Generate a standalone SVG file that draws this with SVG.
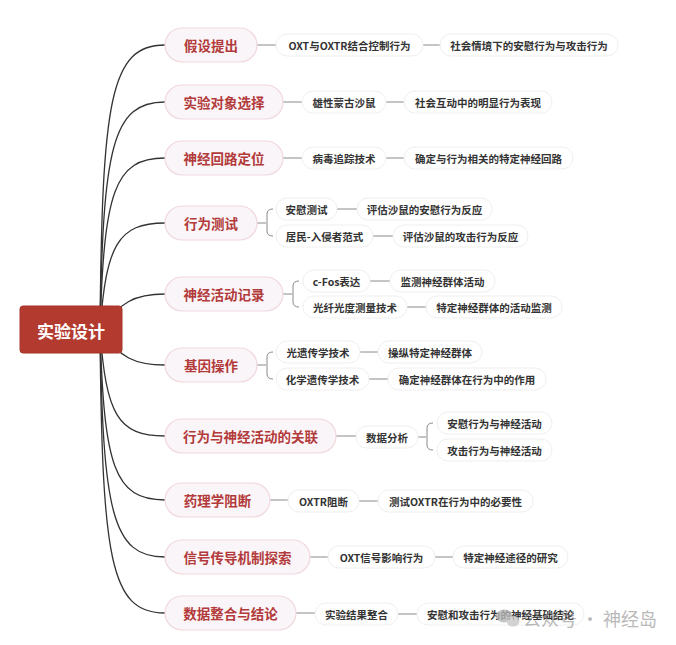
<svg xmlns="http://www.w3.org/2000/svg" width="676" height="645" viewBox="0 0 676 645">
<style>
  .bg{fill:#ffffff}
  .curve{fill:none;stroke:#333333;stroke-width:1.3}
  .line{fill:none;stroke:#8a8a8a;stroke-width:1}
  .root rect{fill:#b33a2f;stroke:#a8342a;stroke-width:1}
  .root text{fill:#ffffff;font-size:17px;font-weight:700}
  .l1 rect{fill:#faf5f8;stroke:#f0d8de;stroke-width:1.2}
  .l1 text{fill:#b23a3a;font-size:13.5px;font-weight:700}
  .l2 rect{fill:#ffffff;stroke:#efefef;stroke-width:1}
  .l2 text{fill:#333333;font-size:10.5px;font-weight:600}
  text{font-family:"Noto Sans CJK SC","Noto Sans",sans-serif;text-anchor:middle;dominant-baseline:central}
  .wm{fill:#8c8c8c;font-size:18px;font-weight:400;opacity:0.75;text-anchor:start}
</style>
<rect class="bg" x="0" y="0" width="676" height="645"/>

<g id="connectors">
  <!-- root to level1 -->
  <path class="curve" d="M100,330 C102,100 110,45 165,45"/>
  <path class="curve" d="M100,330 C103,148 112,102 165,102"/>
  <path class="curve" d="M100,330 C104,192 114,158 165,158"/>
  <path class="curve" d="M100,330 C106,245 118,223 165,223"/>
  <path class="curve" d="M100,330 C120,302 135,294 165,294"/>
  <path class="curve" d="M100,330 C120,358 135,365 165,365"/>
  <path class="curve" d="M100,330 C106,415 118,436 165,436"/>
  <path class="curve" d="M100,330 C104,466 114,500 165,500"/>
  <path class="curve" d="M100,330 C103,512 112,557 165,557"/>
  <path class="curve" d="M100,330 C102,560 110,613 165,613"/>

  <!-- row 1 -->
  <path class="line" d="M257,45 H276 M423,45 H440"/>
  <!-- row 2 -->
  <path class="line" d="M283,102 H302 M386,102 H404"/>
  <!-- row 3 -->
  <path class="line" d="M283,158 H302 M386,158 H404"/>
  <!-- row 4 -->
  <path class="line" d="M257,223 H266 M273,209 Q267,209 267,214 V231 Q267,236 273,236 M337,209 H357 M373,236 H393"/>
  <!-- row 5 -->
  <path class="line" d="M283,294 H292 M299,281 Q293,281 293,286 V302 Q293,307 299,307 M370,281 H390 M407,307 H426"/>
  <!-- row 6 -->
  <path class="line" d="M257,365 H266 M273,352 Q267,352 267,357 V374 Q267,379 273,379 M360,352 H378 M369,379 H388"/>
  <!-- row 7 -->
  <path class="line" d="M336,436 H356 M418,437 H426 M433,423 Q427,423 427,428 V445 Q427,450 433,450"/>
  <!-- row 8 -->
  <path class="line" d="M270,500 H288 M359,501 H378"/>
  <!-- row 9 -->
  <path class="line" d="M310,557 H328 M435,557 H453"/>
  <!-- row 10 -->
  <path class="line" d="M296,613 H315 M398,614 H417"/>
</g>

<g id="root" class="root">
  <rect x="20" y="306" width="102" height="47" rx="3"/>
  <text x="71" y="330">实验设计</text>
</g>

<g id="n1" class="l1"><rect x="165" y="28" width="92" height="34" rx="17"/><text x="211" y="45">假设提出</text></g>
<g id="n2" class="l1"><rect x="165" y="85" width="118" height="34" rx="17"/><text x="224" y="102">实验对象选择</text></g>
<g id="n3" class="l1"><rect x="165" y="141" width="118" height="34" rx="17"/><text x="224" y="158">神经回路定位</text></g>
<g id="n4" class="l1"><rect x="165" y="206" width="92" height="34" rx="17"/><text x="211" y="223">行为测试</text></g>
<g id="n5" class="l1"><rect x="165" y="277" width="118" height="34" rx="17"/><text x="224" y="294">神经活动记录</text></g>
<g id="n6" class="l1"><rect x="165" y="348" width="92" height="34" rx="17"/><text x="211" y="365">基因操作</text></g>
<g id="n7" class="l1"><rect x="165" y="419" width="171" height="34" rx="17"/><text x="250.5" y="436">行为与神经活动的关联</text></g>
<g id="n8" class="l1"><rect x="165" y="483" width="105" height="34" rx="17"/><text x="217.5" y="500">药理学阻断</text></g>
<g id="n9" class="l1"><rect x="165" y="540" width="145" height="34" rx="17"/><text x="237.5" y="557">信号传导机制探索</text></g>
<g id="n10" class="l1"><rect x="165" y="596" width="131" height="34" rx="17"/><text x="230.5" y="613">数据整合与结论</text></g>

<g id="n1a" class="l2"><rect x="276" y="34" width="147" height="22" rx="11"/><text x="349.5" y="45">OXT与OXTR结合控制行为</text></g>
<g id="n1b" class="l2"><rect x="440" y="34" width="178" height="22" rx="11"/><text x="529" y="45">社会情境下的安慰行为与攻击行为</text></g>

<g id="n2a" class="l2"><rect x="302" y="91" width="84" height="22" rx="11"/><text x="344" y="102">雄性蒙古沙鼠</text></g>
<g id="n2b" class="l2"><rect x="404" y="91" width="148" height="22" rx="11"/><text x="478" y="102">社会互动中的明显行为表现</text></g>

<g id="n3a" class="l2"><rect x="302" y="147" width="84" height="22" rx="11"/><text x="344" y="158">病毒追踪技术</text></g>
<g id="n3b" class="l2"><rect x="404" y="147" width="169" height="22" rx="11"/><text x="488.5" y="158">确定与行为相关的特定神经回路</text></g>

<g id="n4a" class="l2"><rect x="276" y="198" width="61" height="22" rx="11"/><text x="306.5" y="209">安慰测试</text></g>
<g id="n4b" class="l2"><rect x="357" y="198" width="135" height="22" rx="11"/><text x="424.5" y="209">评估沙鼠的安慰行为反应</text></g>
<g id="n4c" class="l2"><rect x="276" y="225" width="97" height="22" rx="11"/><text x="324.5" y="236">居民-入侵者范式</text></g>
<g id="n4d" class="l2"><rect x="393" y="225" width="135" height="22" rx="11"/><text x="460.5" y="236">评估沙鼠的攻击行为反应</text></g>

<g id="n5a" class="l2"><rect x="303" y="270" width="67" height="22" rx="11"/><text x="336.5" y="281">c-Fos表达</text></g>
<g id="n5b" class="l2"><rect x="390" y="270" width="105" height="22" rx="11"/><text x="442.5" y="281">监测神经群体活动</text></g>
<g id="n5c" class="l2"><rect x="303" y="296" width="104" height="22" rx="11"/><text x="355" y="307">光纤光度测量技术</text></g>
<g id="n5d" class="l2"><rect x="426" y="296" width="136" height="22" rx="11"/><text x="494" y="307">特定神经群体的活动监测</text></g>

<g id="n6a" class="l2"><rect x="276" y="341" width="84" height="22" rx="11"/><text x="318" y="352">光遗传学技术</text></g>
<g id="n6b" class="l2"><rect x="378" y="341" width="104" height="22" rx="11"/><text x="430" y="352">操纵特定神经群体</text></g>
<g id="n6c" class="l2"><rect x="276" y="368" width="93" height="22" rx="11"/><text x="322.5" y="379">化学遗传学技术</text></g>
<g id="n6d" class="l2"><rect x="388" y="368" width="158" height="22" rx="11"/><text x="467" y="379">确定神经群体在行为中的作用</text></g>

<g id="n7a" class="l2"><rect x="356" y="426" width="62" height="22" rx="11"/><text x="387" y="437">数据分析</text></g>
<g id="n7b" class="l2"><rect x="437" y="412" width="115" height="22" rx="11"/><text x="494.5" y="423">安慰行为与神经活动</text></g>
<g id="n7c" class="l2"><rect x="437" y="439" width="115" height="22" rx="11"/><text x="494.5" y="450">攻击行为与神经活动</text></g>

<g id="n8a" class="l2"><rect x="288" y="490" width="71" height="22" rx="11"/><text x="323.5" y="501">OXTR阻断</text></g>
<g id="n8b" class="l2"><rect x="378" y="490" width="155" height="22" rx="11"/><text x="455.5" y="501">测试OXTR在行为中的必要性</text></g>

<g id="n9a" class="l2"><rect x="328" y="546" width="107" height="22" rx="11"/><text x="381.5" y="557">OXT信号影响行为</text></g>
<g id="n9b" class="l2"><rect x="453" y="546" width="115" height="22" rx="11"/><text x="510.5" y="557">特定神经途径的研究</text></g>

<g id="n10a" class="l2"><rect x="315" y="603" width="83" height="22" rx="11"/><text x="356.5" y="614">实验结果整合</text></g>
<g id="n10b" class="l2"><rect x="417" y="603" width="167" height="22" rx="11"/><text x="500.5" y="614">安慰和攻击行为的神经基础结论</text></g>

<g id="watermark" opacity="0.8">
  <ellipse cx="504" cy="616" rx="8" ry="6.5" fill="#b5b5b5"/>
  <ellipse cx="513" cy="621" rx="6.5" ry="5.5" fill="#c8c8c8"/>
  <text class="wm" x="523" y="618">公众号 · 神经岛</text>
</g>
</svg>
